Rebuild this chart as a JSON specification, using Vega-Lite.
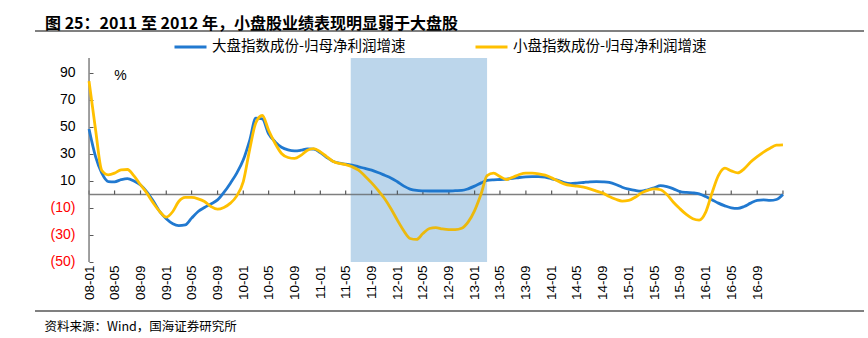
{
  "$schema": "https://vega.github.io/schema/vega-lite/v6.json",
  "width": 829,
  "height": 284,
  "autosize": {"type": "none"},
  "padding": {"left": 35, "top": 30, "right": 4, "bottom": 24},
  "title": {
    "text": "图 25：2011 至 2012 年，小盘股业绩表现明显弱于大盘股",
    "anchor": "start",
    "frame": "group",
    "dx": 10,
    "dy": 2,
    "offset": 0,
    "font": "Noto Sans CJK SC",
    "fontSize": 16,
    "fontWeight": "bold",
    "color": "#000000"
  },
  "data": {
    "values": [
      {"d": "2008-01-01", "a": 48.5, "b": 84},
      {"d": "2008-02-01", "a": 28, "b": 48},
      {"d": "2008-03-01", "a": 16, "b": 18},
      {"d": "2008-04-01", "a": 9.6, "b": 14.6},
      {"d": "2008-05-01", "a": 9.4, "b": 15.8},
      {"d": "2008-06-01", "a": 11, "b": 18.3},
      {"d": "2008-07-01", "a": 11.8, "b": 18.5},
      {"d": "2008-08-01", "a": 10, "b": 13.8},
      {"d": "2008-09-01", "a": 7, "b": 7.2},
      {"d": "2008-10-01", "a": 2, "b": 1},
      {"d": "2008-11-01", "a": -5, "b": -6.4},
      {"d": "2008-12-01", "a": -12.6, "b": -12.6},
      {"d": "2009-01-01", "a": -18, "b": -16.8},
      {"d": "2009-02-01", "a": -21.7, "b": -12.6},
      {"d": "2009-03-01", "a": -23, "b": -5.2},
      {"d": "2009-04-01", "a": -22.5, "b": -2.2},
      {"d": "2009-05-01", "a": -17.5, "b": -2.2},
      {"d": "2009-06-01", "a": -12.6, "b": -3.2},
      {"d": "2009-07-01", "a": -9.6, "b": -5.2},
      {"d": "2009-08-01", "a": -7, "b": -8.9},
      {"d": "2009-09-01", "a": -4, "b": -10.9},
      {"d": "2009-10-01", "a": 1.5, "b": -9.6},
      {"d": "2009-11-01", "a": 8.4, "b": -6.4},
      {"d": "2009-12-01", "a": 15.8, "b": -1},
      {"d": "2010-01-01", "a": 25.7, "b": 9.6},
      {"d": "2010-02-01", "a": 40.5, "b": 34},
      {"d": "2010-03-01", "a": 56.5, "b": 53},
      {"d": "2010-04-01", "a": 56, "b": 58.5},
      {"d": "2010-05-01", "a": 45, "b": 47.6},
      {"d": "2010-06-01", "a": 39, "b": 37.8},
      {"d": "2010-07-01", "a": 35, "b": 30.4},
      {"d": "2010-08-01", "a": 33, "b": 27.4},
      {"d": "2010-09-01", "a": 32.3, "b": 26.7},
      {"d": "2010-10-01", "a": 32.8, "b": 29},
      {"d": "2010-11-01", "a": 33.8, "b": 32.8},
      {"d": "2010-12-01", "a": 33.6, "b": 34},
      {"d": "2011-01-01", "a": 31, "b": 31.6},
      {"d": "2011-02-01", "a": 27.4, "b": 27.9},
      {"d": "2011-03-01", "a": 24.7, "b": 24.7},
      {"d": "2011-04-01", "a": 23.2, "b": 23},
      {"d": "2011-05-01", "a": 22.5, "b": 22.2},
      {"d": "2011-06-01", "a": 21.7, "b": 20.5},
      {"d": "2011-07-01", "a": 20.5, "b": 18},
      {"d": "2011-08-01", "a": 19.3, "b": 13.6},
      {"d": "2011-09-01", "a": 18, "b": 8.6},
      {"d": "2011-10-01", "a": 16.3, "b": 3.2},
      {"d": "2011-11-01", "a": 14.3, "b": -3},
      {"d": "2011-12-01", "a": 12.3, "b": -10.4},
      {"d": "2012-01-01", "a": 9.4, "b": -19},
      {"d": "2012-02-01", "a": 6.2, "b": -27},
      {"d": "2012-03-01", "a": 4, "b": -32.6},
      {"d": "2012-04-01", "a": 3, "b": -33.3},
      {"d": "2012-05-01", "a": 2.7, "b": -28.9},
      {"d": "2012-06-01", "a": 2.6, "b": -25.2},
      {"d": "2012-07-01", "a": 2.6, "b": -24.5},
      {"d": "2012-08-01", "a": 2.6, "b": -25.5},
      {"d": "2012-09-01", "a": 2.6, "b": -26},
      {"d": "2012-10-01", "a": 2.8, "b": -26},
      {"d": "2012-11-01", "a": 3, "b": -25},
      {"d": "2012-12-01", "a": 4.2, "b": -20.5},
      {"d": "2013-01-01", "a": 6.2, "b": -11.9},
      {"d": "2013-02-01", "a": 8.6, "b": 0.5},
      {"d": "2013-03-01", "a": 10.4, "b": 14},
      {"d": "2013-04-01", "a": 10.9, "b": 15.8},
      {"d": "2013-05-01", "a": 11.1, "b": 13.3},
      {"d": "2013-06-01", "a": 11.4, "b": 11.1},
      {"d": "2013-07-01", "a": 11.9, "b": 12.8},
      {"d": "2013-08-01", "a": 12.6, "b": 14.8},
      {"d": "2013-09-01", "a": 13.1, "b": 15.8},
      {"d": "2013-10-01", "a": 13.3, "b": 15.8},
      {"d": "2013-11-01", "a": 13.3, "b": 15.3},
      {"d": "2013-12-01", "a": 12.8, "b": 14.3},
      {"d": "2014-01-01", "a": 11.6, "b": 12.3},
      {"d": "2014-02-01", "a": 10.4, "b": 9.9},
      {"d": "2014-03-01", "a": 8.9, "b": 7.9},
      {"d": "2014-04-01", "a": 8.1, "b": 6.7},
      {"d": "2014-05-01", "a": 8.4, "b": 6.2},
      {"d": "2014-06-01", "a": 8.9, "b": 5.4},
      {"d": "2014-07-01", "a": 9.4, "b": 4.2},
      {"d": "2014-08-01", "a": 9.6, "b": 2.5},
      {"d": "2014-09-01", "a": 9.4, "b": 1},
      {"d": "2014-10-01", "a": 8.9, "b": -1.5},
      {"d": "2014-11-01", "a": 7.4, "b": -3.5},
      {"d": "2014-12-01", "a": 5.4, "b": -4.9},
      {"d": "2015-01-01", "a": 4, "b": -4.4},
      {"d": "2015-02-01", "a": 3, "b": -2},
      {"d": "2015-03-01", "a": 2.5, "b": 1},
      {"d": "2015-04-01", "a": 3.5, "b": 3},
      {"d": "2015-05-01", "a": 4.9, "b": 4.2},
      {"d": "2015-06-01", "a": 6.5, "b": 3.5},
      {"d": "2015-07-01", "a": 5.8, "b": 0},
      {"d": "2015-08-01", "a": 4.2, "b": -5.7},
      {"d": "2015-09-01", "a": 2.2, "b": -10.6},
      {"d": "2015-10-01", "a": 1.5, "b": -14.8},
      {"d": "2015-11-01", "a": 1.2, "b": -18},
      {"d": "2015-12-01", "a": 0.5, "b": -19},
      {"d": "2016-01-01", "a": -1.5, "b": -13},
      {"d": "2016-02-01", "a": -4, "b": 1.7},
      {"d": "2016-03-01", "a": -6.4, "b": 14},
      {"d": "2016-04-01", "a": -8.4, "b": 19.5},
      {"d": "2016-05-01", "a": -9.9, "b": 17.5},
      {"d": "2016-06-01", "a": -10.3, "b": 16},
      {"d": "2016-07-01", "a": -8.9, "b": 19},
      {"d": "2016-08-01", "a": -6.4, "b": 24},
      {"d": "2016-09-01", "a": -4.4, "b": 28},
      {"d": "2016-10-01", "a": -4, "b": 31.4},
      {"d": "2016-11-01", "a": -4.4, "b": 34.3},
      {"d": "2016-12-01", "a": -3.7, "b": 36.5},
      {"d": "2017-01-01", "a": 0, "b": 36.8}
    ]
  },
  "encoding": {
    "x": {
      "field": "d",
      "type": "temporal",
      "scale": {
        "type": "utc",
        "domain": [
          {"year": 2007, "month": 4, "date": 20, "utc": true},
          {"year": 2018, "month": 1, "date": 20, "utc": true}
        ]
      },
      "axis": {
        "orient": "bottom",
        "tickCount": {"interval": "month", "step": 4},
        "format": "%y-%m",
        "labelExpr": "datum.value >= utc(2008,0,1) && datum.value <= utc(2016,8,1) ? datum.label : ''",
        "labelAngle": -90,
        "labelPadding": -49,
        "labelOverlap": false,
        "labelFlush": false,
        "labelFont": "Liberation Sans",
        "labelFontSize": 13.5,
        "labelColor": "#000000",
        "ticks": false,
        "domain": false,
        "grid": false,
        "title": "资料来源：Wind，国海证券研究所",
        "titleX": 9,
        "titleY": 12,
        "titleAlign": "left",
        "titleBaseline": "middle",
        "titleAngle": 0,
        "titleFont": "Noto Sans CJK SC",
        "titleFontSize": 12.5,
        "titleFontWeight": "normal",
        "titleColor": "#000000"
      }
    }
  },
  "resolve": {"axis": {"y": "independent"}},
  "layer": [
    {
      "data": {"values": [{"d": "2011-05-25", "d2": "2013-03-01"}]},
      "mark": {"type": "rect", "color": "#CCE0F0"},
      "encoding": {
        "x2": {"field": "d2"},
        "y": {"datum": -50, "type": "quantitative", "axis": null},
        "y2": {"datum": 101.1}
      }
    },
    {
      "data": {"values": [{"d": "2007-04-20", "d2": "2018-01-20"}]},
      "mark": {"type": "rule", "color": "#808080", "strokeWidth": 2},
      "encoding": {
        "x2": {"field": "d2"},
        "y": {"datum": 121.11, "type": "quantitative", "axis": null}
      }
    },
    {
      "data": {"values": [{"d": "2007-04-20", "d2": "2018-01-20"}]},
      "mark": {"type": "rule", "color": "#808080", "strokeWidth": 2},
      "encoding": {
        "x2": {"field": "d2"},
        "y": {"datum": -86.3, "type": "quantitative", "axis": null}
      }
    },
    {
      "data": {"values": [{"d": "2008-01-01", "d2": "2017-01-01"}]},
      "mark": {"type": "rule", "color": "#7F7F7F", "strokeWidth": 1.5},
      "encoding": {
        "x2": {"field": "d2"},
        "y": {"datum": 0, "type": "quantitative", "axis": null}
      }
    },
    {
      "data": {
        "values": [
          {"d": "2008-01-01"}, {"d": "2008-05-01"}, {"d": "2008-09-01"},
          {"d": "2009-01-01"}, {"d": "2009-05-01"}, {"d": "2009-09-01"},
          {"d": "2010-01-01"}, {"d": "2010-05-01"}, {"d": "2010-09-01"},
          {"d": "2011-01-01"}, {"d": "2011-05-01"}, {"d": "2011-09-01"},
          {"d": "2012-01-01"}, {"d": "2012-05-01"}, {"d": "2012-09-01"},
          {"d": "2013-01-01"}, {"d": "2013-05-01"}, {"d": "2013-09-01"},
          {"d": "2014-01-01"}, {"d": "2014-05-01"}, {"d": "2014-09-01"},
          {"d": "2015-01-01"}, {"d": "2015-05-01"}, {"d": "2015-09-01"},
          {"d": "2016-01-01"}, {"d": "2016-05-01"}, {"d": "2016-09-01"},
          {"d": "2017-01-01"}
        ]
      },
      "mark": {"type": "rule", "color": "#595959", "strokeWidth": 1.2},
      "encoding": {
        "y": {"datum": 0, "type": "quantitative", "axis": null},
        "y2": {"datum": 3}
      }
    },
    {
      "data": {"values": [{"d": "2008-01-01"}]},
      "mark": {"type": "rule", "color": "#808080", "strokeWidth": 1.5},
      "encoding": {
        "y": {"datum": -50, "type": "quantitative", "axis": null},
        "y2": {"datum": 101.1}
      }
    },
    {
      "transform": [{"fold": ["a", "b"], "as": ["series", "value"]}],
      "mark": {"type": "line", "interpolate": "monotone", "strokeWidth": 2.8},
      "encoding": {
        "y": {
          "field": "value",
          "type": "quantitative",
          "scale": {"domain": [-88.52, 121.85], "nice": false, "zero": false},
          "axis": {
            "orient": "left",
            "offset": -54,
            "values": [-50, -30, -10, 10, 30, 50, 70, 90],
            "labelExpr": "datum.value < 0 ? '(' + abs(datum.value) + ')' : datum.label",
            "labelColor": {"condition": {"test": "datum.value < 0", "value": "#FF0000"}, "value": "#000000"},
            "labelFont": "Liberation Sans",
            "labelFontSize": 14,
            "labelPadding": 18,
            "labelOverlap": false,
            "labelBound": false,
            "ticks": true,
            "tickSize": -4,
            "tickColor": "#595959",
            "domain": false,
            "grid": false,
            "title": "%",
            "titleX": 31,
            "titleY": 45,
            "titleAngle": 0,
            "titleAlign": "center",
            "titleBaseline": "middle",
            "titleFont": "Liberation Sans",
            "titleFontSize": 14,
            "titleFontWeight": "normal",
            "titleColor": "#000000"
          }
        },
        "color": {
          "field": "series",
          "type": "nominal",
          "scale": {"domain": ["a", "b"], "range": ["#2179D0", "#FFC000"]},
          "legend": {
            "orient": "none",
            "legendX": 138,
            "legendY": -0.5,
            "direction": "horizontal",
            "columnPadding": 63,
            "symbolType": "stroke",
            "symbolSize": 1024,
            "symbolStrokeWidth": 3,
            "labelFont": "Noto Sans CJK SC",
            "labelFontSize": 14.5,
            "labelColor": "#000000",
            "labelOffset": 4,
            "labelLimit": 400,
            "padding": 0,
            "title": null,
            "labelExpr": "datum.label == 'a' ? '大盘指数成份-归母净利润增速' : '小盘指数成份-归母净利润增速'"
          }
        }
      }
    },
    {
      "data": {"values": [{"d": "2011-05-25", "d2": "2013-03-01"}]},
      "mark": {"type": "rect", "color": "#0064B4", "opacity": 0.08},
      "encoding": {
        "x2": {"field": "d2"},
        "y": {"datum": -50, "type": "quantitative", "axis": null},
        "y2": {"datum": 101.1}
      }
    }
  ],
  "config": {
    "view": {"stroke": null}
  }
}
